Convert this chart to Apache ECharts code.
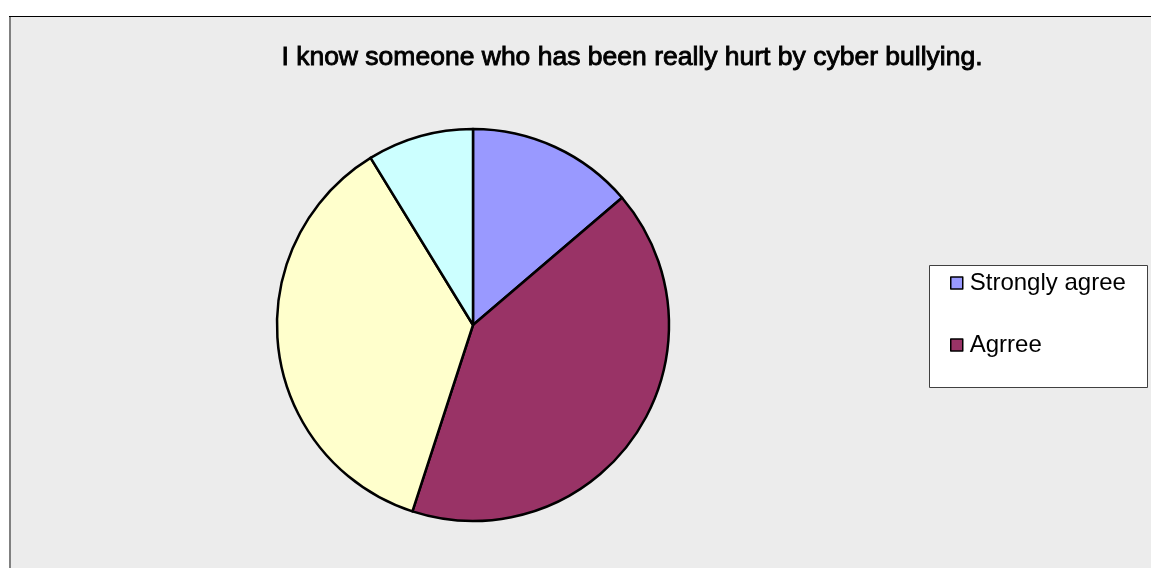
<!DOCTYPE html>
<html>
<head>
<meta charset="utf-8">
<script src="https://cdn.jsdelivr.net/npm/echarts@6/dist/echarts.min.js"></script>
<style>
  html, body { margin: 0; padding: 0; background: #ffffff; }
  #chart { width: 1151px; height: 568px; }
</style>
</head>
<body>
<div id="chart"></div>
<script>
// Survey responses to the statement in the title
const titleText = 'I know someone who has been really hurt by cyber bullying.';
const categories = ['Strongly agree', 'Agrree', 'Disagree', 'Strongly disagree'];
const counts = [11, 33, 29, 7];
const legendShown = ['Strongly agree', 'Agrree'];
const sliceColors = ['#9999FF', '#993366', '#FFFFCC', '#CCFFFF'];

const chart = echarts.init(document.getElementById('chart'), null, { renderer: 'canvas' });

chart.setOption({
  animation: false,
  backgroundColor: '#ffffff',
  graphic: [
    // plot frame
    { type: 'rect', z: -10, shape: { x: 10, y: 16, width: 1141, height: 552 },
      style: { fill: '#ececec' } },
    { type: 'rect', z: -9, shape: { x: 9, y: 16, width: 2, height: 552 },
      style: { fill: '#808080' } },
    { type: 'rect', z: -9, shape: { x: 9, y: 16, width: 1142, height: 1 },
      style: { fill: '#000000' } },
    // legend box
    { type: 'rect', z: -5, shape: { x: 929.5, y: 265.5, width: 218, height: 122 },
      style: { fill: '#ffffff', stroke: '#404040', lineWidth: 1 } },
    // chart title
    { type: 'text', z: 10, x: 632, y: 58,
      style: {
        text: titleText,
        align: 'center',
        verticalAlign: 'middle',
        fontFamily: 'Liberation Sans, Arial, sans-serif',
        fontSize: 26.5,
        fill: '#000000',
        stroke: '#000000',
        lineWidth: 0.9
      } }
  ],
  legend: {
    data: legendShown,
    orient: 'vertical',
    left: 950,
    top: 271,
    padding: 0,
    itemWidth: 12,
    itemHeight: 12,
    itemGap: 38,
    icon: 'rect',
    itemStyle: { borderColor: '#000000', borderWidth: 1.5 },
    textStyle: {
      fontFamily: 'Liberation Sans, Arial, sans-serif',
      fontSize: 24,
      lineHeight: 24,
      color: '#000000',
      padding: [0, 0, 0, 2]
    },
    selectedMode: false
  },
  series: [{
    type: 'pie',
    center: [473, 325],
    radius: [0, 196],
    startAngle: 90,
    clockwise: true,
    label: { show: false },
    labelLine: { show: false },
    emphasis: { disabled: true },
    itemStyle: { borderColor: '#000000', borderWidth: 2.5 },
    data: categories.map((name, i) => ({
      name: name,
      value: counts[i],
      itemStyle: { color: sliceColors[i] }
    }))
  }]
});
</script>
</body>
</html>
